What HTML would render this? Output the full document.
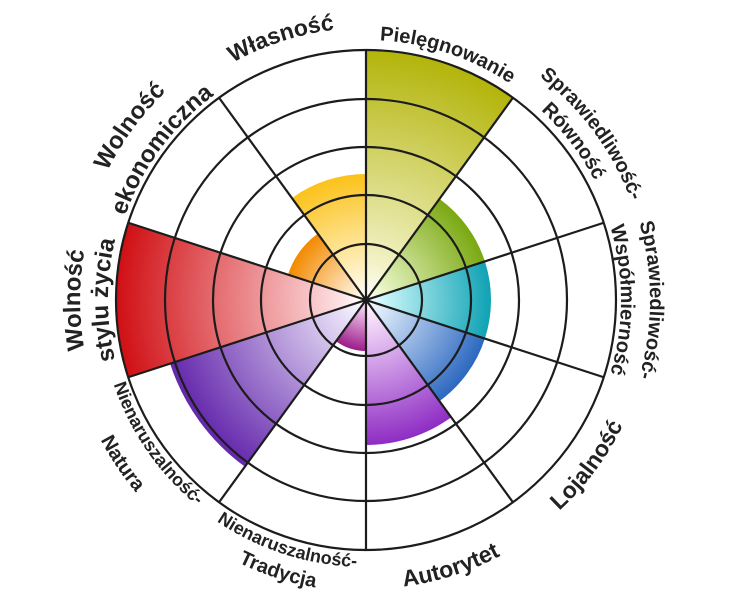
<!DOCTYPE html>
<html><head><meta charset="utf-8"><style>
html,body{margin:0;padding:0;background:#fff;}
svg{display:block;}
text{font-family:"Liberation Sans",sans-serif;font-weight:bold;fill:#222;}
</style></head><body>
<svg id="s" width="732" height="600" viewBox="0 0 732 600" xmlns="http://www.w3.org/2000/svg">
<defs id="d"></defs>
<g id="w"></g>
<g fill="none" stroke="#1c1c1c" stroke-width="2.2">
<circle cx="366" cy="300" r="56"/>
<circle cx="366" cy="300" r="105"/>
<circle cx="366" cy="300" r="153"/>
<circle cx="366" cy="300" r="201"/>
<circle cx="366" cy="300" r="250"/>
</g>
<g id="l" stroke="#1c1c1c" stroke-width="2.2"></g>
<circle cx="366" cy="300" r="3" fill="#1c1c1c"/>
<g id="t">
<text font-size="23"><textPath href="#T272" startOffset="45%" text-anchor="middle">Własność</textPath></text>
<text font-size="20"><textPath href="#T260" startOffset="55.1%" text-anchor="middle">Pielęgnowanie</textPath></text>
<text font-size="20"><textPath href="#T283" startOffset="64.9%" text-anchor="middle">Sprawiedliwość-</textPath></text>
<text font-size="20"><textPath href="#T258" startOffset="64.6%" text-anchor="middle">Równość</textPath></text>
<text font-size="20"><textPath href="#T284" startOffset="75%" text-anchor="middle">Sprawiedliwość-</textPath></text>
<text font-size="20"><textPath href="#T255" startOffset="75%" text-anchor="middle">Współmierność</textPath></text>
<text font-size="24"><textPath href="#T286" startOffset="25%" text-anchor="middle">Wolność</textPath></text>
<text font-size="24"><textPath href="#T258" startOffset="25%" text-anchor="middle">stylu życia</textPath></text>
<text font-size="24"><textPath href="#T289" startOffset="35.1%" text-anchor="middle">Wolność</textPath></text>
<text font-size="24"><textPath href="#T255" startOffset="35.1%" text-anchor="middle">ekonomiczna</textPath></text>
<text font-size="23"><textPath href="#B286" startOffset="64.8%" text-anchor="middle">Lojalność</textPath></text>
<text font-size="23"><textPath href="#B289" startOffset="54.9%" text-anchor="middle">Autorytet</textPath></text>
<text font-size="18"><textPath href="#B267" startOffset="45%" text-anchor="middle">Nienaruszalność-</textPath></text>
<text font-size="20"><textPath href="#B292" startOffset="45%" text-anchor="middle">Tradycja</textPath></text>
<text font-size="18"><textPath href="#B266" startOffset="34.6%" text-anchor="middle">Nienaruszalność-</textPath></text>
<text font-size="20"><textPath href="#B300" startOffset="34.4%" text-anchor="middle">Natura</textPath></text>
</g>
</svg>
<script>
(function(){
var NS="http://www.w3.org/2000/svg",cx=366,cy=300;
var d=document.getElementById('d'),w=document.getElementById('w'),l=document.getElementById('l');
function pt(a,r){var t=a*Math.PI/180;return [cx+r*Math.sin(t),cy-r*Math.cos(t)];}
var W=[[0,250,'#f2f2c8','#b3b40a'],[36,125,'#eaf6c8','#7aa812'],[72,125,'#c8f6f8','#0fa2b4'],[108,125,'#dceafa','#2c68c0'],[144,145,'#f4dcfa','#8e2cc4'],[180,51,'#f4d0f0','#9c1c8a'],[216,206,'#e6dcf6','#6428ac'],[252,250,'#fbd6d8','#d00f14'],[288,82,'#fff0d8','#f28a00'],[324,126,'#fff6d8','#fbc21a']];
W.forEach(function(o,i){
 var g=document.createElementNS(NS,'radialGradient');g.setAttribute('id','g'+i);g.setAttribute('gradientUnits','userSpaceOnUse');
 g.setAttribute('cx',cx);g.setAttribute('cy',cy);g.setAttribute('r',o[1]);
 g.innerHTML='<stop offset="0" stop-color="#fff"/><stop offset="0.15" stop-color="'+o[2]+'"/><stop offset="1" stop-color="'+o[3]+'"/>';
 d.appendChild(g);
 var a=pt(o[0],o[1]),b=pt(o[0]+36,o[1]);
 var p=document.createElementNS(NS,'path');
 p.setAttribute('d','M'+cx+' '+cy+'L'+a[0]+' '+a[1]+'A'+o[1]+' '+o[1]+' 0 0 1 '+b[0]+' '+b[1]+'Z');
 p.setAttribute('fill','url(#g'+i+')');w.appendChild(p);
});
for(var k=0;k<10;k++){var e=pt(k*36,250);var ln=document.createElementNS(NS,'line');
 ln.setAttribute('x1',cx);ln.setAttribute('y1',cy);ln.setAttribute('x2',e[0]);ln.setAttribute('y2',e[1]);l.appendChild(ln);}
[272,260,283,258,284,255,286,289].forEach(function(r){
 var p=document.createElementNS(NS,'path');p.setAttribute('id','T'+r);p.setAttribute('fill','none');
 p.setAttribute('d','M'+cx+' '+(cy+r)+'A'+r+' '+r+' 0 0 1 '+cx+' '+(cy-r)+'A'+r+' '+r+' 0 0 1 '+cx+' '+(cy+r));
 d.appendChild(p);});
[286,289,267,292,266,300].forEach(function(r){
 var p=document.createElementNS(NS,'path');p.setAttribute('id','B'+r);p.setAttribute('fill','none');
 p.setAttribute('d','M'+cx+' '+(cy-r)+'A'+r+' '+r+' 0 0 0 '+cx+' '+(cy+r)+'A'+r+' '+r+' 0 0 0 '+cx+' '+(cy-r));
 d.appendChild(p);});
})();
</script>
</body></html>
